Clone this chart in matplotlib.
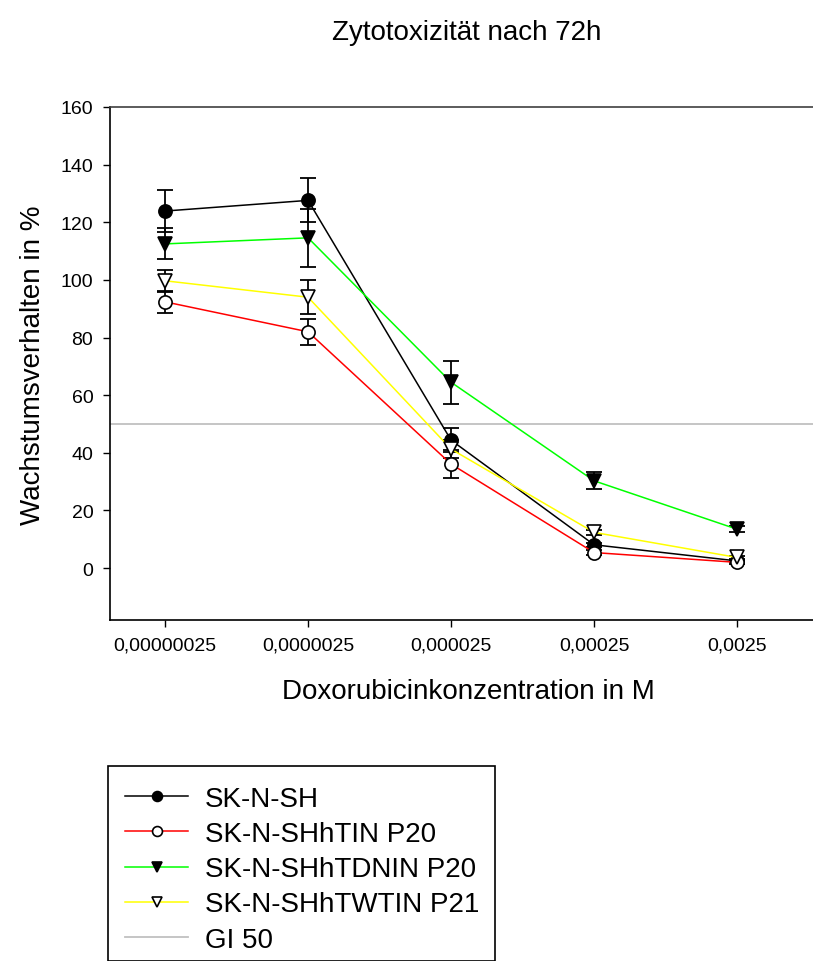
import matplotlib
matplotlib.use("Agg")
import matplotlib.pyplot as plt
import matplotlib.patches as patches

plt.rcParams['font.family'] = ['Liberation Sans', 'DejaVu Sans']

# Doxorubicin concentrations (M) and tick labels
conc = [2.5e-7, 2.5e-6, 2.5e-5, 2.5e-4, 2.5e-3]
conc_labels = ['0,00000025', '0,0000025', '0,000025', '0,00025', '0,0025']

# growth in % with error
sknsh = [123.9, 127.6, 44.4, 8.1, 2.5]
sknsh_err = [7.4, 7.6, 4.1, 0.6, 0.4]
tin = [92.4, 82.0, 36.1, 5.4, 2.0]
tin_err = [3.9, 4.6, 5.0, 0.8, 0.5]
tdnin = [112.5, 114.6, 64.5, 30.3, 13.5]
tdnin_err = [5.4, 10.0, 7.5, 3.0, 1.0]
twtin = [99.7, 94.0, 41.3, 12.4, 3.7]
twtin_err = [3.9, 5.8, 3.0, 1.0, 0.5]
gi50 = 50

labels = ['SK-N-SH', 'SK-N-SHhTIN P20', 'SK-N-SHhTDNIN P20', 'SK-N-SHhTWTIN P21', 'GI 50']

W, H = 813, 962
fig = plt.figure(figsize=(W / 100, H / 100), dpi=100)
ax = fig.add_axes([110 / W, 1 - 621 / H, 1 - 110 / W, (621 - 108) / H])

ax.axhline(gi50, color='#c0c0c0', lw=1.3, zorder=1)

series = [
    (sknsh, sknsh_err, 'black', 'o', 'black'),
    (tin, tin_err, '#ff0000', 'o', 'white'),
    (tdnin, tdnin_err, '#00ff00', 'v', 'black'),
    (twtin, twtin_err, '#ffff00', 'v', 'white'),
]
handles = []
for (vals, err, col, mk, face) in series:
    ax.errorbar(conc, vals, yerr=err, fmt='none', ecolor='black', elinewidth=1.3,
                capsize=5.5, capthick=1.3, zorder=3)
    h, = ax.plot(conc, vals, color=col, lw=1.1, marker=mk, markersize=9.5,
                 markerfacecolor=face, markeredgecolor='black', markeredgewidth=1.2,
                 zorder=4)
    handles.append(h)

ax.set_xscale('log')
ax.set_xlim(2.5e-7 / 10 ** 0.385, 2.5e-3 * 10 ** 0.531)
ax.set_ylim(-18, 160)
ax.set_xticks(conc)
ax.set_xticklabels(conc_labels)
ax.minorticks_off()
ax.set_yticks(range(0, 161, 20))
ax.tick_params(direction='out', length=5, width=1, labelsize=14, pad=7)
ax.spines['right'].set_visible(False)
for s in ['left', 'bottom', 'top']:
    ax.spines[s].set_linewidth(1.2)
ax.spines['top'].set_color('#404040')

fig.text(467 / W, 1 - 33 / H, 'Zytotoxizität nach 72h', ha='center', va='center', fontsize=20)
fig.text(468 / W, 1 - 692 / H, 'Doxorubicinkonzentration in M', ha='center', va='center', fontsize=20)
fig.text(33 / W, 1 - 365 / H, 'Wachstumsverhalten in %', ha='center', va='center',
         rotation=90, fontsize=20)

# legend
gi_handle, = ax.plot([], [], color='#c0c0c0', lw=1.3)
fig.patches.append(patches.Rectangle((108 / W, 0), (495 - 108) / W, (H - 767) / H,
                                     transform=fig.transFigure, fill=False,
                                     edgecolor='black', lw=1.2))
fig.legend(handles + [gi_handle], labels, loc='upper left',
           bbox_to_anchor=(125 / W, 1 - 787 / H), frameon=False, fontsize=20,
           handlelength=2.27, handletextpad=0.6, labelspacing=0.33, markerscale=0.75,
           borderaxespad=0, borderpad=0)

fig.savefig('out.png', dpi=100)
